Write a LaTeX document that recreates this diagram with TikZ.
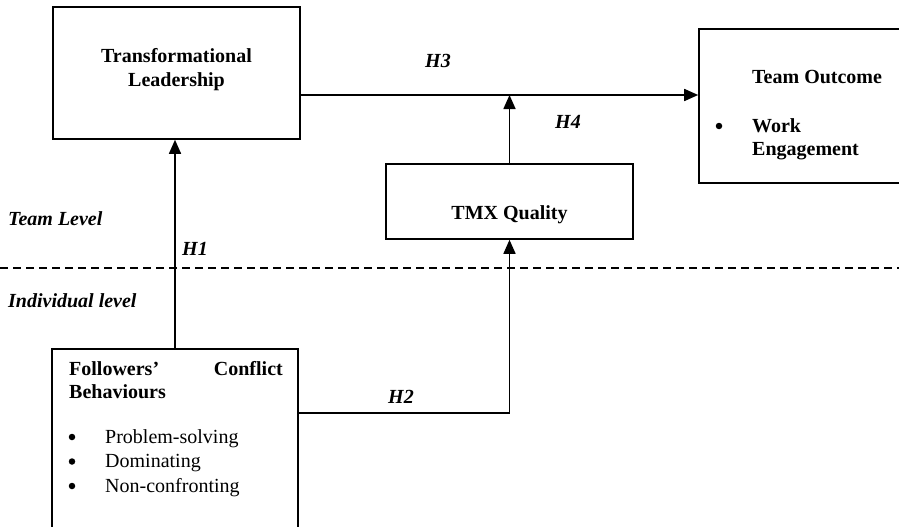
\documentclass[tikz,border=0pt]{standalone}
\usepackage{fontspec}
\setmainfont{Liberation Serif}
\usetikzlibrary{arrows.meta}
\newcommand{\figsize}{\fontsize{20}{23}\selectfont}
\tikzset{
  box/.style={draw, line width=1.6pt, inner sep=0pt},
  link/.style={line width=1.6pt, -{Triangle[length=14pt,width=12pt]}},
  dot/.style={circle, fill, inner sep=0pt, minimum size=6.5pt},
  txt/.style={inner sep=0pt, anchor=base west, font=\figsize},
  btxt/.style={inner sep=0pt, anchor=base west, font=\figsize\bfseries},
  ctxt/.style={inner sep=0pt, anchor=base, font=\figsize\bfseries},
  hyp/.style={inner sep=0pt, anchor=base west, font=\figsize\bfseries\itshape},
}
\begin{document}
\begin{tikzpicture}[x=1pt,y=-1pt]
\useasboundingbox (0,0) rectangle (899,527);
\clip (0,0) rectangle (899,527);
    \node[box, minimum width=247pt, minimum height=132pt] (lead) at (176.5,73) {};
    \node[box, minimum width=247pt, minimum height=75pt] (tmx) at (509.5,201.5) {};
    \node[box, minimum width=213pt, minimum height=154pt] (outcome) at (805.5,106) {};
    \node[box, minimum width=246pt, minimum height=191pt] (fcb) at (175,444.5) {};
\node[ctxt] (leadA) at (176.5,63) {Transformational};
\node[ctxt] (leadB) at (176.5,86) {Leadership};
\node[ctxt] (tmxA) at (509.5,219) {TMX Quality};
\node[btxt] (outA) at (752,84) {Team Outcome};
\node[dot] (outDot) at (719,126) {};
\node[btxt] (outB) at (752,132) {Work};
\node[btxt] (outC) at (752,155) {Engagement};
\node[btxt] (fcbA) at (69,375) {Followers’};
\node[btxt, anchor=base east] (fcbB) at (283,375) {Conflict};
\node[btxt] (fcbC) at (69,398) {Behaviours};
\foreach \name/\word/\y in {ps/Problem-solving/443, dom/Dominating/467.5, nc/Non-confronting/492} {
  \node[dot] (dot\name) at (72,\y-6) {};
  \node[txt] (\name) at (105,\y) {\word};
}
    \node[hyp] (team) at (8,225) {Team Level};
    \node[hyp] (indiv) at (8,307) {Individual level};
    \node[hyp] (h1) at (182,255) {H1};
    \node[hyp] (h2) at (388,403) {H2};
    \node[hyp] (h3) at (425,67) {H3};
    \node[hyp] (h4) at (555,128) {H4};
\coordinate (lvlL) at (0,268);
\coordinate (lvlR) at (899,268);
\draw[line width=1.6pt, dash pattern=on 8pt off 5pt] (lvlL) -- (lvlR);
\coordinate (h3a) at ([yshift=-22pt]lead.east);
\coordinate (h2a) at ([yshift=-65pt]fcb.north east);
\draw[link] (h3a) -- (h3a -| outcome.west);
\draw[link] (tmx.north) -- (tmx.north |- h3a);
\draw[link] (fcb.north) -- (fcb.north |- lead.south);
\draw[link] (h2a) -| (tmx.south);
\end{tikzpicture}
\end{document}
